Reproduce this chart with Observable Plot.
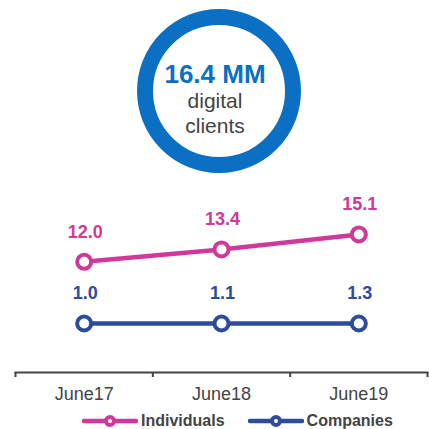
<!DOCTYPE html>
<html>
<head>
<meta charset="utf-8">
<script src="https://cdn.jsdelivr.net/npm/d3@7"></script>
<script src="https://cdn.jsdelivr.net/npm/@observablehq/plot@0.6"></script>
<style>
  body { margin: 0; background: #fff; font-family: "Liberation Sans", Arial, sans-serif; }
  #wrap { position: relative; width: 429px; height: 429px; overflow: hidden; }
  #chart, #kpi, #legend { position: absolute; left: 0; top: 0; }
  #legend { top: 412px; left: 82px; display: flex; align-items: center; font-weight: bold; font-size: 16px; color: #444; }
  #legend .item { display: flex; align-items: center; }
  #legend .item + .item { margin-left: 23px; }
  #legend svg { margin-right: 3px; }
</style>
</head>
<body>
<div id="wrap">
  <div id="chart"></div>
  <svg id="kpi" width="429" height="190"></svg>
  <div id="legend"></div>
</div>
<script>
// ---- data ----
const periods = ["June17", "June18", "June19"];
const individuals = [12.0, 13.4, 15.1];
const companies = [1.0, 1.1, 1.3];
const seriesNames = ["Individuals", "Companies"];
const totalDigital = 16.4;
const totalUnit = "MM";
const totalCaption = ["digital", "clients"];

// ---- styles ----
const pink = "#d0399a";
const navy = "#2e4c9b";
const ringBlue = "#0b70c3";
const grey = "#444444";

const rows = [
  ...individuals.map((v, i) => ({series: seriesNames[0], i, v})),
  ...companies.map((v, i) => ({series: seriesNames[1], i, v}))
];
const colorOf = {[seriesNames[0]]: pink, [seriesNames[1]]: navy};

const chart = Plot.plot({
  width: 429,
  height: 405,
  marginLeft: 15,
  marginRight: 2,
  marginTop: 180,
  marginBottom: 33,
  style: {fontFamily: '"Liberation Sans", Arial, sans-serif', background: "transparent"},
  x: {type: "linear", domain: [-0.5, periods.length - 0.5], axis: null, label: null},
  // broken (piecewise) value axis: companies row compressed, individuals row linear
  y: {type: "linear", domain: [0, 2, 10, 16], range: [323, 323, 279, 226], axis: null, label: null},
  marks: [
    Plot.frame({anchor: "bottom", stroke: grey, strokeWidth: 2}),
    Plot.axisX({
      ticks: d3.range(periods.length + 1).map(k => k - 0.5),
      tickFormat: () => "",
      tickSize: 5,
      strokeWidth: 2,
      stroke: grey,
      label: null
    }),
    Plot.axisX({
      ticks: d3.range(periods.length),
      tickFormat: k => periods[k],
      tickSize: 0,
      tickPadding: 15,
      fontSize: 18,
      fill: grey,
      label: null
    }),
    Plot.line(rows, {x: "i", y: "v", z: "series", stroke: d => colorOf[d.series], strokeWidth: 4.5}),
    Plot.dot(rows, {x: "i", y: "v", r: 7, fill: "white", stroke: d => colorOf[d.series], strokeWidth: 4}),
    Plot.text(rows, {
      x: "i", y: "v", text: d => d.v.toFixed(1), dy: -30, dx: 1,
      fontSize: 18, fontWeight: "bold", fill: d => colorOf[d.series]
    })
  ]
});
document.getElementById("chart").appendChild(chart);

// ---- KPI ring ----
const kpi = d3.select("#kpi");
kpi.append("circle").attr("cx", 219).attr("cy", 91).attr("r", 74)
  .attr("fill", "none").attr("stroke", ringBlue).attr("stroke-width", 16);
kpi.append("text").attr("x", 215).attr("y", 83).attr("text-anchor", "middle")
  .attr("font-size", 26).attr("font-weight", "bold").attr("fill", ringBlue)
  .text(`${totalDigital.toFixed(1)} ${totalUnit}`);
totalCaption.forEach((t, k) => {
  kpi.append("text").attr("x", 215).attr("y", 108 + k * 25).attr("text-anchor", "middle")
    .attr("font-size", 21).attr("fill", grey).text(t);
});

// ---- legend ----
const legend = d3.select("#legend");
seriesNames.forEach(name => {
  const item = legend.append("div").attr("class", "item");
  const sw = item.append("svg").attr("width", 56).attr("height", 14);
  sw.append("line").attr("x1", 2).attr("x2", 54).attr("y1", 7).attr("y2", 7)
    .attr("stroke", colorOf[name]).attr("stroke-width", 4.5).attr("stroke-linecap", "round");
  sw.append("circle").attr("cx", 28).attr("cy", 7).attr("r", 4)
    .attr("fill", "white").attr("stroke", colorOf[name]).attr("stroke-width", 4);
  item.append("span").text(name);
});
</script>
</body>
</html>
